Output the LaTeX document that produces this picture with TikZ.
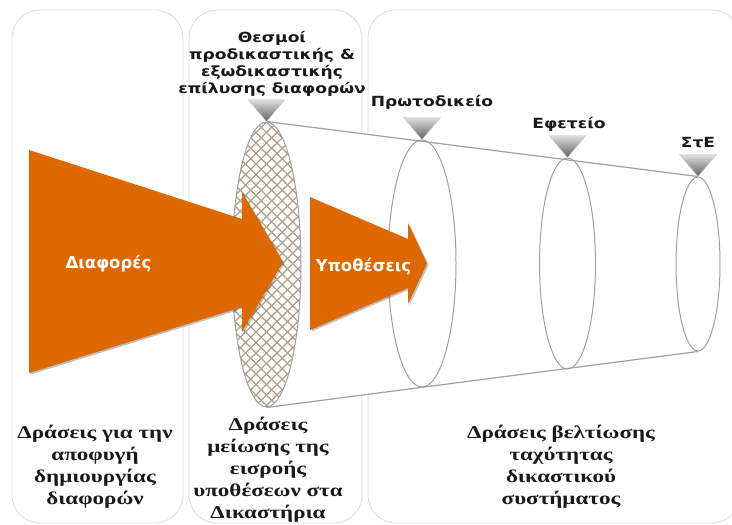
\documentclass[tikz,border=0pt]{standalone}
\usepackage{fontspec}
\setmainfont{Liberation Serif}
\newfontfamily\botfont{Liberation Serif}[UprightFeatures={FakeStretch=1.38, FakeBold=1.4}, BoldFeatures={FakeStretch=1.28}]
\newfontfamily\lblfont{DejaVu Sans}[FakeStretch=1.22]
\newfontfamily\arrfont{DejaVu Sans}
\usetikzlibrary{shapes.geometric,shadows,calc}
\definecolor{orng}{RGB}{222,104,0}
\definecolor{hatchc}{RGB}{170,160,140}
\definecolor{panelc}{RGB}{218,218,218}
\definecolor{ellc}{RGB}{160,160,160}
\definecolor{txt}{RGB}{25,25,25}
\begin{document}
\begin{tikzpicture}[x=1pt,y=-1pt,
  panel/.style={draw=panelc, line width=0.8pt, rounded corners=28pt},
  ell/.style={ellipse, draw=ellc, line width=1pt, inner sep=0pt},
  coneline/.style={draw=ellc, line width=1.2pt},
  hatchl/.style={draw=hatchc, line width=1.1pt},
  marker/.style={top color=gray!25, bottom color=gray!75!black, draw=gray!45, line width=0.4pt},
  arrowshape/.style={fill=orng, drop shadow={shadow xshift=1.5pt, shadow yshift=-1.5pt, opacity=0.25, fill=black}},
  toplbl/.style={font=\lblfont\bfseries\fontsize{14}{17}\selectfont, text=txt, inner sep=0pt},
  arrlbl/.style={font=\arrfont\bfseries\fontsize{16.5}{20}\selectfont, text=white, inner sep=0pt},
  botlbl/.style={font=\botfont\bfseries\fontsize{18}{22}\selectfont, text=txt, align=center, inner sep=0pt}
]
\useasboundingbox (0,0) rectangle (732,525);
% panels
\draw[panel] (12,10) rectangle (183,523);
\draw[panel] (189,10) rectangle (362,523);
\draw[panel] (368,10) rectangle (740,523);
% cone background
\fill[white] (266.5,122) -- (698,177) -- (698,351) -- (266.5,407) -- cycle;
% ellipses
\node[ell, minimum width=68pt, minimum height=247pt] (e1) at (422,263.5) {};
\node[ell, minimum width=56pt, minimum height=211pt] (e2) at (567.5,263.5) {};
\node[ell, minimum width=44pt, minimum height=174pt] (e3) at (698,264) {};
% hatched ellipse
\begin{scope}
  \clip (266.5,264.5) ellipse [x radius=34.5, y radius=142.5];
  \fill[white] (230,120) rectangle (305,410);
  \foreach \k in {-40,...,40} {
    \draw[hatchl] ({266.5+\k*10.5},122) -- ++(300,300);
    \draw[hatchl] ({266.5+\k*10.5},122) -- ++(-300,300);
  }
\end{scope}
\node[ell, minimum width=69pt, minimum height=285pt] (hat) at (266.5,264.5) {};
% cone lines
\draw[coneline] (hat.north) -- (e3.north);
\draw[coneline] (hat.south) -- (e3.south);
% markers
\shade[marker] ($(hat.north)+(-18.5,-22)$) -- ++(37,0) -- (hat.north) -- cycle;
\shade[marker] ($(e1.north)+(-18.5,-22)$) -- ++(37,0) -- (e1.north) -- cycle;
\shade[marker] ($(e2.north)+(-18.5,-22)$) -- ++(37,0) -- (e2.north) -- cycle;
\shade[marker] ($(e3.north)+(-18.5,-22)$) -- ++(37,0) -- (e3.north) -- cycle;
% arrows
\path[arrowshape] (29,150) -- (242,219) -- (242,192) -- (283,262) -- (242,332) -- (242,307) -- (29,373) -- cycle;
\path[arrowshape] (310,197) -- (408,239) -- (408,223) -- (427,263.5) -- (408,304) -- (408,288) -- (310,330) -- cycle;
\node[arrlbl, anchor=base] (tdia) at (108.5,268) {Διαφορές};
\node[arrlbl, anchor=base] (typo) at (363.5,271) {Υποθέσεις};
% top labels
\node[toplbl, align=center, anchor=north] (lthes) at (272,31) {Θεσμοί\\προδικαστικής \&\\εξωδικαστικής\\επίλυσης διαφορών};
\node[toplbl, anchor=base] (lprot) at (432,106) {Πρωτοδικείο};
\node[toplbl, anchor=base] (lefet) at (569,128) {Εφετείο};
\node[toplbl, anchor=base] (lste) at (698,147) {ΣτΕ};
% bottom labels
\node[botlbl, anchor=north] (b1) at (95,425) {Δράσεις για την\\αποφυγή\\δημιουργίας\\διαφορών};
\node[botlbl, anchor=north] (b2) at (268,417) {Δράσεις\\μείωσης της\\εισροής\\υποθέσεων στα\\Δικαστήρια};
\node[botlbl, anchor=north] (b3) at (561,425) {Δράσεις βελτίωσης\\ταχύτητας\\δικαστικού\\συστήματος};
\end{tikzpicture}
\end{document}
